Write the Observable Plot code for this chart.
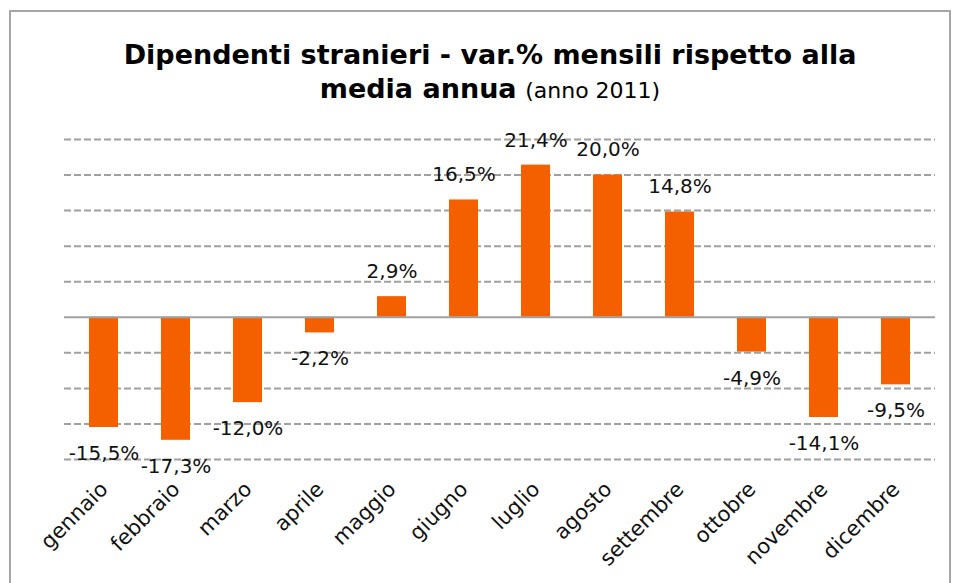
<!DOCTYPE html>
<html>
<head>
<meta charset="utf-8">
<script src="https://cdn.jsdelivr.net/npm/d3@7"></script>
<script src="https://cdn.jsdelivr.net/npm/@observablehq/plot@0.6"></script>
<style>
  html, body { margin: 0; padding: 0; background: #fff; }
  body { width: 956px; height: 583px; overflow: hidden; position: relative; font-family: "DejaVu Sans", Verdana, sans-serif; }
  #frame { position: absolute; left: 9px; top: 10px; width: 942px; height: 640px; border: 2px solid #a6a6a6; box-sizing: border-box; }
  #title { position: absolute; left: 0; top: 38px; width: 980px; text-align: center; font-size: 27px; line-height: 34px; color: #000; }
  #title b { font-weight: bold; }
  #title span { font-size: 22px; font-weight: normal; }
  #chart { position: absolute; left: 0; top: 0; }
</style>
</head>
<body>
<div id="frame"></div>
<div id="title"><b>Dipendenti stranieri - var.% mensili rispetto alla<br>media annua</b> <span>(anno 2011)</span></div>
<div id="chart"></div>
<script>
const months = ["gennaio","febbraio","marzo","aprile","maggio","giugno","luglio","agosto","settembre","ottobre","novembre","dicembre"];
const values = [-15.5, -17.3, -12.0, -2.2, 2.9, 16.5, 21.4, 20.0, 14.8, -4.9, -14.1, -9.5];
const gridTicks = [25, 20, 15, 10, 5, -5, -10, -15, -20];

const data = months.map((m, i) => ({month: m, value: values[i]}));
const fmt = v => v.toFixed(1).replace(".", ",") + "%";
const font = "DejaVu Sans, Verdana, sans-serif";

const plot = Plot.plot({
  width: 956,
  height: 583,
  marginTop: 139,
  marginBottom: 124,
  marginLeft: 64,
  marginRight: 21,
  style: {background: "transparent", fontFamily: font},
  x: {type: "band", domain: months, paddingInner: 0.6, paddingOuter: 0.3, axis: null},
  y: {domain: [-20, 25], axis: null},
  marks: [
    Plot.ruleY(gridTicks, {stroke: "#a0a0a0", strokeWidth: 2, strokeDasharray: "7,3"}),
    Plot.barY(data, {x: "month", y: "value", fill: "#f46000"}),
    Plot.ruleY([0], {stroke: "#a0a0a0", strokeWidth: 2}),
    Plot.text(data.filter(d => d.value >= 0), {x: "month", y: "value", text: d => fmt(d.value), dy: -25, fontSize: 20, fill: "#111"}),
    Plot.text(data.filter(d => d.value < 0), {x: "month", y: "value", text: d => fmt(d.value), dy: 26, fontSize: 20, fill: "#111"}),
    Plot.text(months, {x: d => d, frameAnchor: "bottom", rotate: -45, textAnchor: "end", lineAnchor: "bottom", dx: 5, dy: 31, fontSize: 21, fill: "#111"})
  ]
});
document.getElementById("chart").appendChild(plot);
</script>
</body>
</html>
